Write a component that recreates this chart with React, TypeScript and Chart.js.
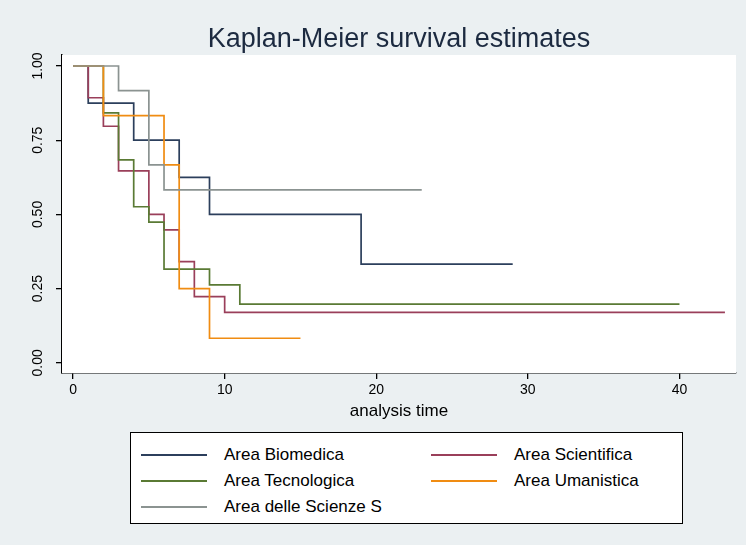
import React, { useEffect, useRef } from "react";
import { Chart, registerables } from "chart.js";

Chart.register(...registerables);

const FONT = "'Liberation Sans', Arial, Helvetica, sans-serif";

// Group names, in legend order
const groups = [
  "Area Biomedica",
  "Area Scientifica",
  "Area Tecnologica",
  "Area Umanistica",
  "Area delle Scienze S",
];
const groupColors = ["#2c3f5c", "#9a3f5a", "#5a7a34", "#f08c12", "#8b9391"];

// Kaplan-Meier steps: times where the estimate changes, and the estimate after each time.
// The last entry of each group marks the end of follow-up.
const timesBiomedica = [0, 1, 4, 7, 9, 19, 29];
const survBiomedica = [1, 0.875, 0.75, 0.625, 0.5, 0.333, 0.333];
const timesScientifica = [0, 1, 2, 3, 5, 6, 7, 8, 10, 43];
const survScientifica = [1, 0.893, 0.797, 0.647, 0.5, 0.448, 0.341, 0.223, 0.17, 0.17];
const timesTecnologica = [0, 2, 3, 4, 5, 6, 9, 11, 40];
const survTecnologica = [1, 0.842, 0.684, 0.526, 0.474, 0.316, 0.263, 0.198, 0.198];
const timesUmanistica = [0, 2, 6, 7, 9, 15];
const survUmanistica = [1, 0.833, 0.667, 0.25, 0.083, 0.083];
const timesScienzeS = [0, 3, 5, 6, 23];
const survScienzeS = [1, 0.917, 0.667, 0.583, 0.583];

const groupTimes = [timesBiomedica, timesScientifica, timesTecnologica, timesUmanistica, timesScienzeS];
const groupSurv = [survBiomedica, survScientifica, survTecnologica, survUmanistica, survScienzeS];

// Axis ticks
const xTicks = [0, 10, 20, 30, 40];
const yTicks = [0, 0.25, 0.5, 0.75, 1];

const plotBackground = {
  id: "plotBackground",
  beforeDatasetsDraw(chart: any) {
    const { ctx, chartArea } = chart;
    ctx.save();
    ctx.fillStyle = "#ffffff";
    ctx.fillRect(chartArea.left, chartArea.top, chartArea.right - chartArea.left, chartArea.bottom - chartArea.top);
    ctx.restore();
  },
};

export default function App() {
  const canvasRef = useRef<HTMLCanvasElement | null>(null);

  useEffect(() => {
    if (!canvasRef.current) return;
    const datasets = groups.map((name, i) => ({
      label: name,
      data: groupTimes[i].map((t, k) => ({ x: t, y: groupSurv[i][k] })),
      borderColor: groupColors[i],
      backgroundColor: groupColors[i],
      borderWidth: 1.7,
      pointRadius: 0,
      stepped: "before" as const,
      fill: false,
      order: groups.length - i,
    }));

    const chart = new Chart(canvasRef.current, {
      type: "line",
      data: { datasets },
      plugins: [plotBackground],
      options: {
        animation: false,
        responsive: false,
        layout: { padding: { left: 0, right: 10, top: 0, bottom: 122 } },
        plugins: {
          legend: { display: false },
          tooltip: { enabled: false },
          title: {
            display: true,
            fullSize: false,
            text: "Kaplan-Meier survival estimates",
            color: "#1c2a40",
            font: { family: FONT, size: 27, weight: "normal", lineHeight: 1 },
            padding: { top: 26, bottom: 2 },
          },
        },
        scales: {
          x: {
            type: "linear",
            min: -0.73,
            max: 43.73,
            afterBuildTicks: (axis: any) => {
              axis.ticks = xTicks.map((v) => ({ value: v }));
            },
            afterFit: (axis: any) => {
              axis.height = 50;
            },
            grid: { drawOnChartArea: false, drawTicks: true, tickLength: 6, color: "#000", lineWidth: 1.3 },
            border: { display: true, color: "#000", width: 1.5 },
            ticks: {
              color: "#000",
              font: { family: FONT, size: 14 },
              padding: 3,
              maxRotation: 0,
              autoSkip: false,
            },
            title: {
              display: true,
              text: "analysis time",
              color: "#000",
              font: { family: FONT, size: 17 },
              padding: { top: 0, bottom: 1 },
            },
          },
          y: {
            type: "linear",
            min: -0.034,
            max: 1.037,
            afterBuildTicks: (axis: any) => {
              axis.ticks = yTicks.map((v) => ({ value: v }));
            },
            afterFit: (axis: any) => {
              axis.width = 62;
            },
            grid: { drawOnChartArea: false, drawTicks: true, tickLength: 6, color: "#000", lineWidth: 1.3 },
            border: { display: true, color: "#000", width: 1.5 },
            ticks: {
              color: "#000",
              font: { family: FONT, size: 14 },
              padding: 4,
              minRotation: 90,
              maxRotation: 90,
              crossAlign: "center",
              autoSkip: false,
              callback: (v: any) => Number(v).toFixed(2),
            },
          },
        },
      },
    });
    return () => chart.destroy();
  }, []);

  return (
    <div
      style={{
        position: "fixed",
        left: 0,
        top: 0,
        width: 746,
        height: 545,
        background: "#ebf0f2",
        overflow: "hidden",
      }}
    >
      <canvas ref={canvasRef} width={746} height={545} style={{ width: 746, height: 545, display: "block" }} />
      <div
        style={{
          position: "absolute",
          left: 130,
          top: 432,
          width: 551,
          height: 90,
          background: "#fff",
          border: "1.5px solid #000",
          fontFamily: FONT,
          fontSize: 17,
          color: "#000",
        }}
      >
        {groups.map((name, i) => {
          const col = i % 2;
          const row = Math.floor(i / 2);
          return (
            <div
              key={name}
              style={{
                position: "absolute",
                left: col === 0 ? 10 : 300,
                top: 12 + row * 26,
                height: 20,
                display: "flex",
                alignItems: "center",
                whiteSpace: "nowrap",
              }}
            >
              <span
                style={{
                  display: "inline-block",
                  width: 66,
                  height: 2,
                  background: groupColors[i],
                  marginRight: 17,
                }}
              />
              <span>{name}</span>
            </div>
          );
        })}
      </div>
    </div>
  );
}
